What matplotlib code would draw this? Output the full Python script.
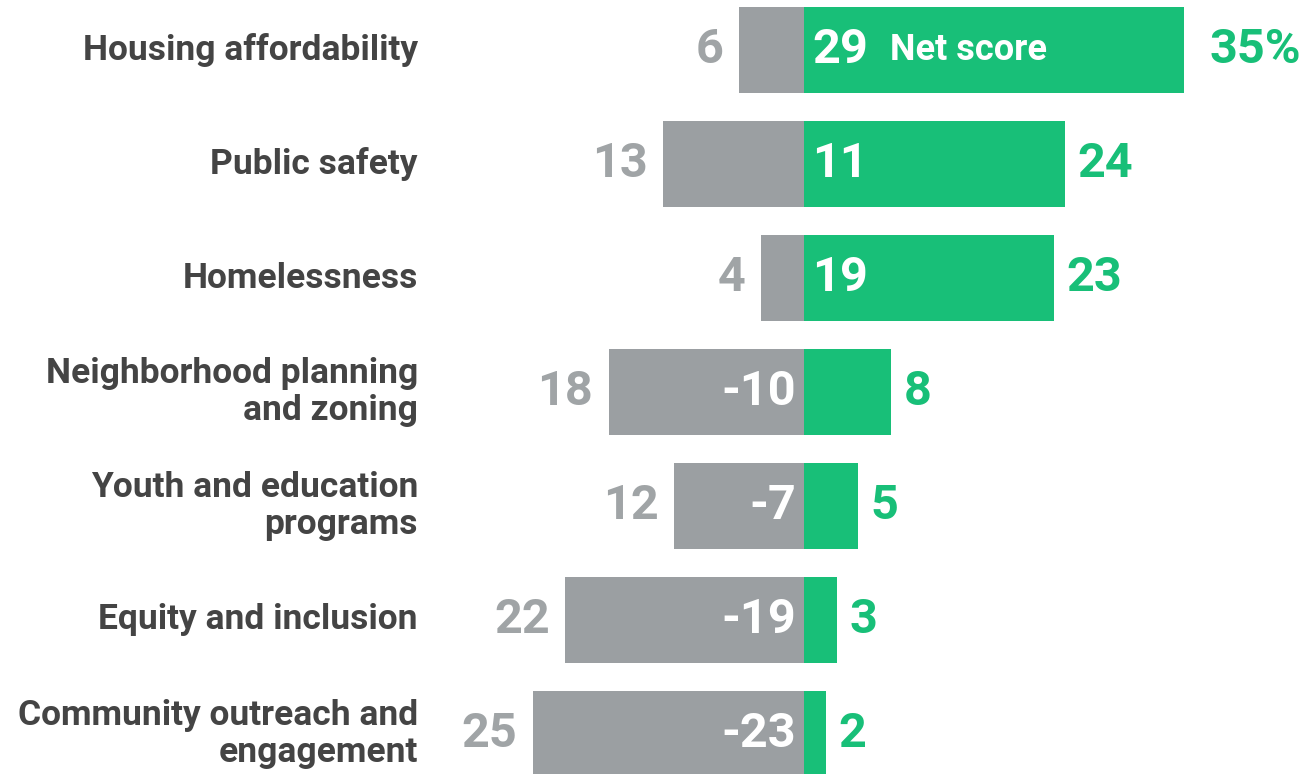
import matplotlib.pyplot as plt

categories = ["Housing affordability", "Public safety", "Homelessness",
              "Neighborhood planning\nand zoning", "Youth and education\nprograms",
              "Equity and inclusion", "Community outreach and\nengagement"]
negative = [6, 13, 4, 18, 12, 22, 25]
positive = [35, 24, 23, 8, 5, 3, 2]
net = [p - n for p, n in zip(positive, negative)]

GRAY = "#9b9fa2"
GREEN = "#18bf78"
LABEL = "#444444"

plt.rcParams['font.family'] = ['Roboto', 'DejaVu Sans']

fig = plt.figure(figsize=(13.12, 7.74), dpi=100)
ax = fig.add_axes([0, 0, 1, 1])
px = 10.86  # pixels per unit
ax.set_xlim(-804 / px, (1312 - 804) / px)
ax.set_ylim((774 - 50) / 114, -50 / 114)
ax.axis("off")

h = 86 / 114
y = list(range(len(categories)))
ax.barh(y, [-v for v in negative], height=h, color=GRAY)
ax.barh(y, positive, height=h, color=GREEN)

for i, cat in enumerate(categories):
    ax.text(-(804 - 418) / px, i, cat, ha="right", va="center", fontsize=25.5,
            fontweight="bold", color=LABEL, linespacing=1.12)
    ax.annotate(str(negative[i]), (-negative[i], i), xytext=(-11, 0),
                textcoords="offset points", ha="right", va="center",
                fontsize=35, fontweight="bold", color="#a0a4a6")
    lab = f"{positive[i]}%" if i == 0 else str(positive[i])
    gap = 18 if i == 0 else 9
    ax.annotate(lab, (positive[i], i), xytext=(gap, 0), textcoords="offset points",
                ha="left", va="center", fontsize=35, fontweight="bold", color=GREEN)
    if net[i] > 0:
        ax.annotate(str(net[i]), (0, i), xytext=(6, 0), textcoords="offset points",
                    ha="left", va="center", fontsize=35, fontweight="bold", color="white")
    else:
        ax.annotate(str(net[i]), (0, i), xytext=(-6, 0), textcoords="offset points",
                    ha="right", va="center", fontsize=35, fontweight="bold", color="white")

ax.annotate("Net score", (0, 0), xytext=((890 - 804) * 0.72, 0), textcoords="offset points",
            ha="left", va="center", fontsize=26, fontweight="bold", color="white")

fig.savefig("out.png", dpi=100)
